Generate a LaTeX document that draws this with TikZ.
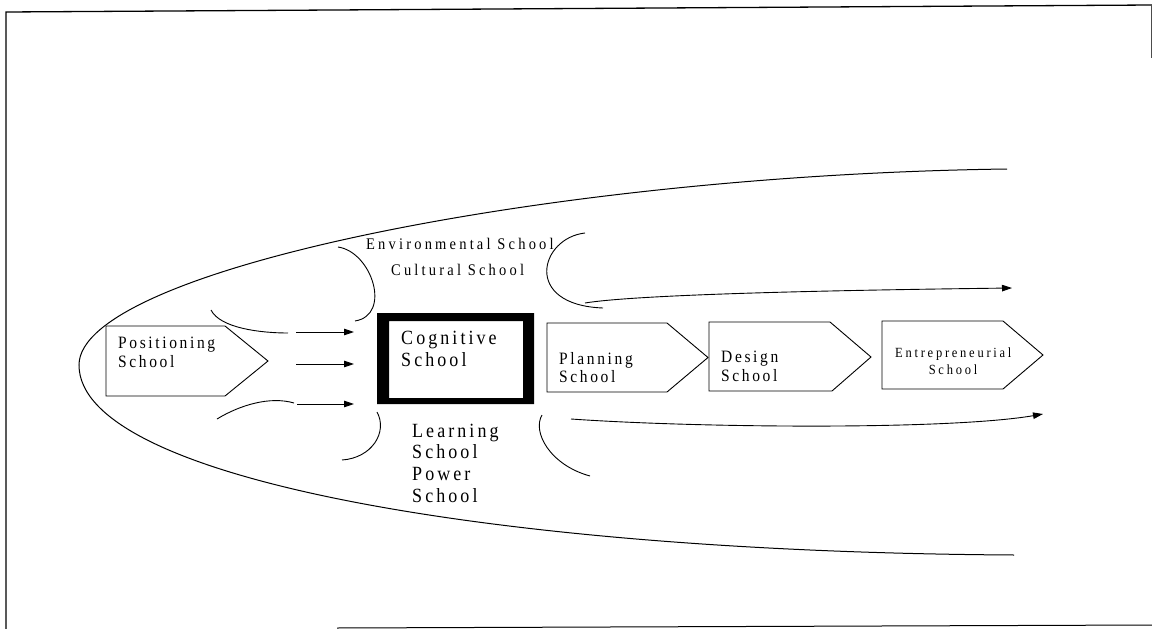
\documentclass[tikz,border=0pt]{standalone}
\usepackage{graphicx}
\usepackage{fontspec}
\setmainfont{Liberation Serif}
\newfontfamily\spaced[LetterSpace=17]{Liberation Serif}
\newfontfamily\wide[LetterSpace=22]{Liberation Serif}
\newcommand{\tall}[1]{\scalebox{1}[1.12]{#1}}
\usetikzlibrary{arrows.meta}
\begin{document}
\begin{tikzpicture}[x=1pt,y=-1pt,
  thin line/.style={line width=0.9pt},
  flow/.style={line width=0.9pt,-{Triangle[length=10pt,width=6.5pt]}},
  school/.style={draw,line width=0.9pt},
  label/.style={anchor=base west,inner sep=0pt,font=\spaced\fontsize{15.5}{15.5}\selectfont},
  big label/.style={label,font=\spaced\fontsize{18}{18}\selectfont},
  small label/.style={label,font=\wide\fontsize{12.5}{12.5}\selectfont},
  top label/.style={label,font=\wide\fontsize{14.5}{14.5}\selectfont}]
\useasboundingbox (0,0) rectangle (1152,629);

% page frame
\draw[line width=1.3pt] (1152,5) -- (6,12) -- (6,629);
\draw[line width=1pt,black!70] (1151,5) -- (1151,58);
\draw[line width=1pt] (337,628) -- (1152,625);

% outer envelope
\draw[line width=1pt] (1007,169) .. controls (550,175) and (79,270) .. (79,365)
  .. controls (79,480) and (500,552) .. (1014,555);

% positioning school
\coordinate (posTip) at (268,361);
\draw[school] (106,326) -- (225,326) -- (posTip) -- (225,396) -- (106,396) -- cycle;
\node[label] (pos1) at (118,348) {\tall{Positioning}};
\node[label] (pos2) at (118,367) {\tall{School}};

% cognitive school, heavy frame
\fill[even odd rule] (377,313) rectangle (534,404) (389,321) rectangle (523,398);
\node[big label] (cog1) at (401,344) {\tall{Cognitive}};
\node[big label] (cog2) at (401,366) {\tall{School}};

% planning, design, entrepreneurial schools
\coordinate (planTip) at (708,357.5);
\draw[school] (547,323) -- (667,323) -- (planTip) -- (667,392) -- (547,392) -- cycle;
\node[label] (plan1) at (559,364) {\tall{Planning}};
\node[label] (plan2) at (559,382) {\tall{School}};

\coordinate (desTip) at (871,357);
\draw[school] (709,322) -- (830,322) -- (desTip) -- (832,391) -- (709,391) -- cycle;
\node[label] (des1) at (721,362) {\tall{Design}};
\node[label] (des2) at (721,381) {\tall{School}};

\coordinate (entTip) at (1043,355);
\draw[school] (882,321) -- (1003,321) -- (entTip) -- (1003,389) -- (882,389) -- cycle;
\node[small label] (ent1) at (895,357) {\tall{Entrepreneurial}};
\node[small label,anchor=base] (ent2) at (953,374) {\tall{School}};

% schools above and below
\node[top label] (env) at (366,249) {\tall{Environmental School}};
\node[top label] (cul) at (391,275) {\tall{Cultural School}};
\node[big label] (lrn1) at (412,437) {\tall{Learning}};
\node[big label] (lrn2) at (412,458) {\tall{School}};
\node[big label] (pow1) at (412,480) {\tall{Power}};
\node[big label] (pow2) at (412,502) {\tall{School}};

% brackets round the labels
\draw[thin line] (338,247) .. controls (372,252) and (392,315) .. (355,321);
\draw[thin line] (585,233) .. controls (540,238) and (522,305) .. (603,308);
\draw[thin line] (377,412) .. controls (388,432) and (372,458) .. (342,460);
\draw[thin line] (542,415) .. controls (532,432) and (550,465) .. (590,476);

% arrows into the cognitive school
\coordinate (inA) at (296,332);
\coordinate (inAend) at (354,332);
\coordinate (inB) at (296,364);
\coordinate (inBend) at (354,364);
\coordinate (inC) at (297,404);
\coordinate (inCend) at (354,404);
\draw[thin line] (211,310) .. controls (220,328) and (260,333) .. (288,333);
\draw[flow] (inA) -- (inAend);
\draw[flow] (inB) -- (inBend);
\draw[thin line] (217,419) .. controls (240,405) and (270,396) .. (294,403);
\draw[flow] (inC) -- (inCend);

% arrows leaving to the right
\coordinate (outTop) at (1012,288);
\coordinate (outBot) at (1043,414);
\draw[flow] (585,303) .. controls (640,294) and (850,290) .. (outTop);
\draw[flow] (571,419) .. controls (700,428) and (950,430) .. (outBot);
\end{tikzpicture}
\end{document}
